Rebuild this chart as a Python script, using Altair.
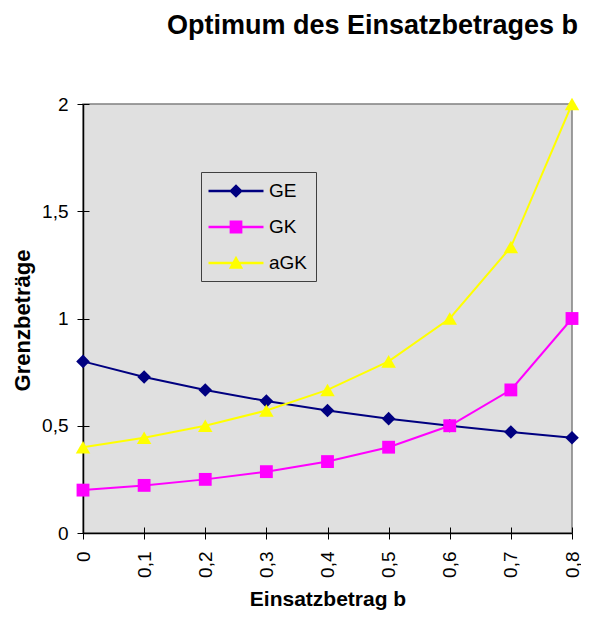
import altair as alt
import pandas as pd

# ---- data ----
b_values = [0, 0.1, 0.2, 0.3, 0.4, 0.5, 0.6, 0.7, 0.8]
ge_values = [0.8, 0.727, 0.667, 0.615, 0.571, 0.533, 0.5, 0.471, 0.444]
gk_values = [0.2, 0.222, 0.25, 0.286, 0.333, 0.4, 0.5, 0.667, 1.0]
agk_values = [0.4, 0.444, 0.5, 0.571, 0.667, 0.8, 1.0, 1.333, 2.0]
series_names = ["GE", "GK", "aGK"]
series_colors = ["#000080", "#FF00FF", "#FFFF00"]
y_ticks = [0, 0.5, 1, 1.5, 2]

rows = []
for name, vals in zip(series_names, [ge_values, gk_values, agk_values]):
    for b, v in zip(b_values, vals):
        rows.append({"b": b, "wert": v, "serie": name})
df = pd.DataFrame(rows)

FONT = "Liberation Sans"
comma = "replace(toString(datum.value), '.', ',')"
PW, PH = 489, 429

x_scale = alt.Scale(domain=[0, 0.8], nice=False, zero=False)
y_scale = alt.Scale(domain=[0, 2], nice=False)

x_enc = alt.X(
    "b:Q", scale=x_scale,
    axis=alt.Axis(
        orient="bottom", values=b_values, labelExpr=comma, labelAngle=270, grid=False,
        title="Einsatzbetrag b", titleX=PW / 2, titleY=66,
        titleAlign="center", titleBaseline="middle",
        titleFontSize=21, titleFontWeight="bold", titleFont=FONT, titleColor="black",
        labelFontSize=19, labelFont=FONT, labelColor="black", labelPadding=12,
        domainColor="black", domainWidth=1.5, tickColor="black", tickSize=6, tickWidth=1,
    ),
)
y_enc = alt.Y(
    "wert:Q", scale=y_scale,
    axis=alt.Axis(
        orient="left", values=y_ticks, labelExpr=comma, grid=False,
        title="Grenzbeträge", titleX=-61, titleY=216, titleAngle=270,
        titleAlign="center", titleBaseline="middle",
        titleFontSize=22, titleFontWeight="bold", titleFont=FONT, titleColor="black",
        labelFontSize=19, labelFont=FONT, labelColor="black", labelPadding=9,
        domainColor="black", domainWidth=1.5, tickColor="black", tickSize=6, tickWidth=1,
    ),
)
# inner half of the crossing tick marks
x_inner = alt.X("b:Q", scale=x_scale, axis=alt.Axis(
    orient="bottom", offset=-6, values=b_values, labels=False, domain=False,
    grid=False, title=None, tickColor="black", tickSize=6, tickWidth=1))
y_inner = alt.Y("wert:Q", scale=y_scale, axis=alt.Axis(
    orient="left", offset=-6, values=y_ticks, labels=False, domain=False,
    grid=False, title=None, tickColor="black", tickSize=6, tickWidth=1))
x_plain = alt.X("b:Q", scale=x_scale, axis=None)
y_plain = alt.Y("wert:Q", scale=y_scale, axis=None)

base = alt.Chart(df)

lines = base.mark_line(strokeWidth=2).encode(
    x=x_enc, y=y_enc,
    stroke=alt.Stroke("serie:N", scale=alt.Scale(range=series_colors), legend=None),
    order=alt.Order("b:Q"),
)

# marker fill scale (domain listed in another order so it stays apart from the legend)
fill_domain = ["aGK", "GE", "GK"]
fill_range = ["#FFFF00", "#000080", "#FF00FF"]
marker_shapes = ["diamond", "square", "triangle-up"]
marker_sizes = [185, 165, 210]
point_layers = []
for name, shp, sz in zip(series_names, marker_shapes, marker_sizes):
    point_layers.append(
        base.transform_filter(alt.datum.serie == name)
        .mark_point(shape=shp, filled=True, size=sz, opacity=1)
        .encode(x=x_plain, y=y_plain,
                fill=alt.Fill("serie:N", scale=alt.Scale(domain=fill_domain, range=fill_range), legend=None))
    )

# legend symbols: a short line with the marker in its middle
legend_paths = [
    "M-2.5,-0.12H2.5V0.12H-2.5Z M0,-0.62L0.62,0L0,0.62L-0.62,0Z",
    "M-2.5,-0.12H2.5V0.12H-2.5Z M-0.58,-0.58H0.58V0.58H-0.58Z",
    "M-2.5,-0.12H2.5V0.12H-2.5Z M0,-0.65L0.65,0.52L-0.65,0.52Z",
]
leg = alt.Legend(
    title=None, orient="none", legendX=118, legendY=68,
    padding=8, strokeColor="#404040", fillColor="#E0E0E0",
    labelFontSize=19, labelFont=FONT, labelColor="black",
    symbolSize=484, symbolStrokeWidth=0, symbolOffset=16, labelOffset=22,
    rowPadding=15, symbolOpacity=1,
)
legend_layer = base.transform_filter("false").mark_point(filled=True, opacity=1).encode(
    x=x_inner, y=y_inner,
    color=alt.Color("serie:N", scale=alt.Scale(domain=series_names, range=series_colors), legend=leg),
    shape=alt.Shape("serie:N", scale=alt.Scale(domain=series_names, range=legend_paths), legend=leg),
)

chart = alt.layer(lines, *point_layers, legend_layer).resolve_axis(
    x="independent", y="independent"
).properties(
    width=PW, height=PH,
    autosize=alt.AutoSizeParams(type="none"),
    padding={"left": 75, "top": 96, "right": 9, "bottom": 77},
    background="white",
    title=alt.TitleParams(
        "Optimum des Einsatzbetrages b", anchor="end", frame="group", fontSize=27,
        fontWeight="bold", font=FONT, color="black", offset=55, dx=6,
    ),
).configure_view(fill="#E0E0E0", stroke="#808080", strokeWidth=1.5)

chart.save("out.html", embed_options={"renderer": "svg", "actions": False})
